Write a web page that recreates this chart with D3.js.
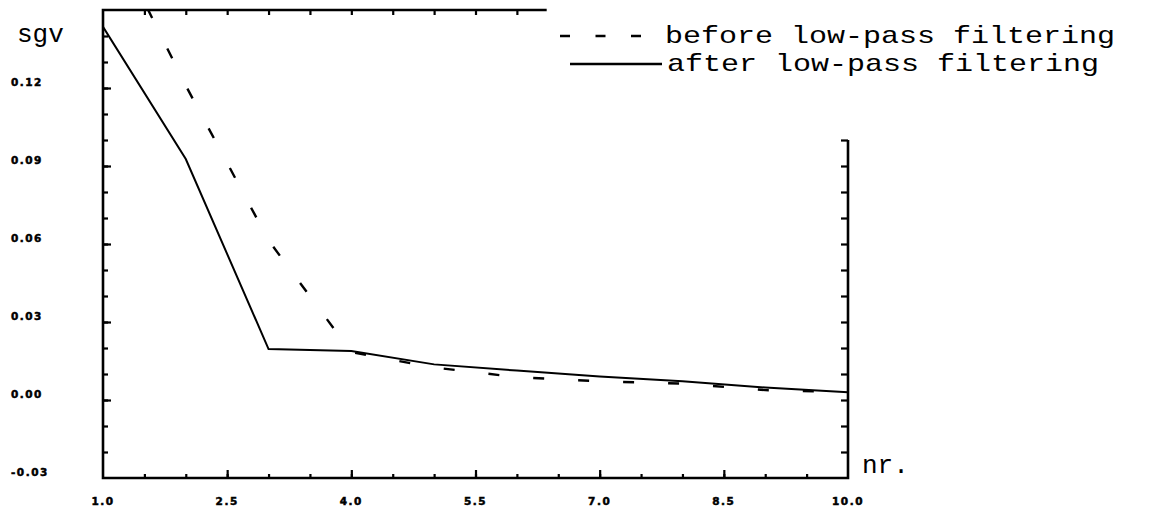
<!DOCTYPE html>
<html>
<head>
<meta charset="utf-8">
<script src="https://cdn.jsdelivr.net/npm/d3@7"></script>
<style>
  html, body { margin: 0; padding: 0; background: #fff; }
  svg { display: block; }
</style>
</head>
<body>
<svg id="chart" width="1168" height="525"></svg>
<script>
// ---- data ----
const nr = [1, 2, 3, 4, 5, 6, 7, 8, 9, 10];
const beforeFilter = [0.185, 0.1209, 0.0614, 0.0184, 0.0125, 0.0088, 0.0072, 0.0063, 0.0038, 0.0031];
const afterFilter  = [0.1435, 0.0927, 0.0196, 0.0188, 0.0137, 0.0113, 0.0090, 0.0072, 0.0048, 0.0030];
const xTickLabels = ["1.0", "2.5", "4.0", "5.5", "7.0", "8.5", "10.0"];
const xTickValues = [1, 2.5, 4, 5.5, 7, 8.5, 10];
const yTickLabels = ["0.12", "0.09", "0.06", "0.03", "0.00", "-0.03"];
const yTickValues = [0.12, 0.09, 0.06, 0.03, 0.00, -0.03];
const legendLabels = ["before low-pass filtering", "after low-pass filtering"];

// ---- layout ----
const svg = d3.select("#chart");
const L = 103, R = 848, T = 10, B = 478;
const x = d3.scaleLinear().domain([1, 10]).range([L, R]);
const y = d3.scaleLinear().domain([-0.03, 0.15]).range([B, T]);
const ink = "#000";
const mono = "'Liberation Mono', 'DejaVu Sans Mono', monospace";

svg.append("defs").append("clipPath").attr("id", "plotclip")
  .append("rect").attr("x", L).attr("y", T).attr("width", R - L).attr("height", B - T);

function tickAxis(axisFn, scale, values, size, transform) {
  const g = svg.append("g").attr("transform", transform)
    .call(axisFn(scale).tickValues(values).tickSize(size).tickSizeOuter(0).tickFormat(""));
  g.select(".domain").remove();
  g.selectAll(".tick line").attr("stroke", ink).attr("stroke-width", 2.2);
  return g;
}
const range = (a, b, s) => d3.range(Math.round((b - a) / s) + 1).map(i => +(a + i * s).toFixed(4));

// left axis ticks (pointing inward)
tickAxis(d3.axisRight, y, range(-0.02, 0.14, 0.01), 5, `translate(${L},0)`);
tickAxis(d3.axisRight, y, range(0.00, 0.12, 0.03), 8, `translate(${L},0)`);
// bottom axis ticks (pointing up)
tickAxis(d3.axisTop, x, range(1.5, 9.5, 0.5), 4, `translate(0,${B})`);
tickAxis(d3.axisTop, x, [2.5, 4, 5.5, 7, 8.5], 8, `translate(0,${B})`);
// top axis ticks (pointing down)
tickAxis(d3.axisBottom, x, range(1.5, 6.0, 0.5), 5, `translate(0,${T})`);
// right axis ticks (pointing left)
tickAxis(d3.axisLeft, y, range(-0.02, 0.10, 0.01), 7, `translate(${R},0)`);

// frame
const frame = svg.append("g").attr("fill", "none").attr("stroke", ink).attr("stroke-width", 2.6);
frame.append("path").attr("d", `M${x(6.36)},${T}H${L}V${B}H${R}V${y(0.10)}`);

// axis labels
svg.append("g").selectAll("text").data(yTickValues).join("text")
  .attr("x", 11).attr("y", d => y(d) - 2.5)
  .attr("font-family", "'DejaVu Sans', sans-serif").attr("font-weight", "bold")
  .attr("font-size", 10.5).attr("letter-spacing", 1.5).attr("fill", ink)
  .attr("stroke", ink).attr("stroke-width", 0.5)
  .text((d, i) => yTickLabels[i]);

svg.append("g").selectAll("text").data(xTickValues).join("text")
  .attr("x", d => x(d)).attr("y", 505).attr("text-anchor", "middle")
  .attr("font-family", "'DejaVu Sans', sans-serif").attr("font-weight", "bold")
  .attr("font-size", 10.5).attr("letter-spacing", 1.5).attr("fill", ink)
  .attr("stroke", ink).attr("stroke-width", 0.5)
  .text((d, i) => xTickLabels[i]);

svg.append("text").attr("x", 17).attr("y", 42)
  .attr("font-family", mono).attr("font-size", 26).attr("fill", ink).text("sgv");
svg.append("text").attr("x", 862).attr("y", 473)
  .attr("font-family", mono).attr("font-size", 26).attr("fill", ink).text("nr.");

// data lines
const line = d3.line().x((d, i) => x(nr[i])).y(d => y(d));
const plot = svg.append("g").attr("clip-path", "url(#plotclip)");
plot.append("path").datum(beforeFilter).attr("d", line)
  .attr("fill", "none").attr("stroke", ink).attr("stroke-width", 2.4)
  .attr("stroke-dasharray", "11,34").attr("stroke-dashoffset", 35.5);
plot.append("path").datum(afterFilter).attr("d", line)
  .attr("fill", "none").attr("stroke", ink).attr("stroke-width", 2);

// legend
const lg = svg.append("g");
lg.append("line").attr("x1", 560).attr("x2", 642).attr("y1", 36).attr("y2", 36)
  .attr("stroke", ink).attr("stroke-width", 2.6).attr("stroke-dasharray", "10,25.5");
lg.append("line").attr("x1", 570).attr("x2", 662).attr("y1", 64).attr("y2", 64)
  .attr("stroke", ink).attr("stroke-width", 2.6);
lg.append("text").attr("x", 665).attr("y", 43)
  .attr("font-family", mono).attr("font-size", 24).attr("fill", ink)
  .attr("textLength", 450).attr("lengthAdjust", "spacingAndGlyphs").text(legendLabels[0]);
lg.append("text").attr("x", 667).attr("y", 71)
  .attr("font-family", mono).attr("font-size", 24).attr("fill", ink)
  .attr("textLength", 432).attr("lengthAdjust", "spacingAndGlyphs").text(legendLabels[1]);
</script>
</body>
</html>
